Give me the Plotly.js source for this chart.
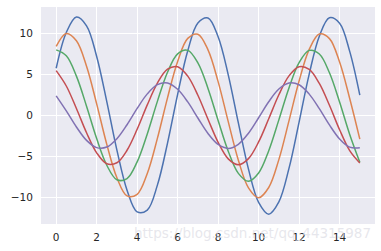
<!DOCTYPE html>
<html><head><meta charset="utf-8">
<script src="https://cdn.plot.ly/plotly-3.0.1.min.js"></script>
<style>html,body{margin:0;padding:0;background:#fff}#chart{width:381px;height:251px}</style>
</head><body><div id="chart"></div>
<script>
const xValues = [0,0.5,1,1.5,2,2.5,3,3.5,4,4.5,5,5.5,6,6.5,7,7.5,8,8.5,9,9.5,10,10.5,11,11.5,12,12.5,13,13.5,14,14.5,15];
const series1 = [5.75,10.10,11.97,10.91,7.18,1.69,-4.21,-9.08,-11.73,-11.51,-8.47,-3.35,2.58,7.88,11.26,11.87,9.58,4.95,-0.90,-6.53,-10.56,-12.00,-10.51,-6.44,-0.80,5.04,9.65,11.89,11.22,7.80,2.48];
const series2 = [8.41,9.98,9.09,5.99,1.41,-3.51,-7.57,-9.78,-9.59,-7.06,-2.79,2.15,6.57,9.38,9.89,7.99,4.12,-0.75,-5.44,-8.80,-10.00,-8.76,-5.37,-0.66,4.20,8.04,9.91,9.35,6.50,2.07,-2.88];
const series3 = [7.98,7.27,4.79,1.13,-2.81,-6.05,-7.82,-7.67,-5.64,-2.24,1.72,5.26,7.50,7.92,6.39,3.30,-0.60,-4.35,-7.04,-8.00,-7.00,-4.29,-0.53,3.36,6.43,7.92,7.48,5.20,1.65,-2.30,-5.69];
const series4 = [5.46,3.59,0.85,-2.10,-4.54,-5.87,-5.75,-4.23,-1.68,1.29,3.94,5.63,5.94,4.79,2.47,-0.45,-3.26,-5.28,-6.00,-5.25,-3.22,-0.40,2.52,4.82,5.94,5.61,3.90,1.24,-1.73,-4.27,-5.77];
const series5 = [2.39,0.56,-1.40,-3.03,-3.91,-3.84,-2.82,-1.12,0.86,2.63,3.75,3.96,3.19,1.65,-0.30,-2.18,-3.52,-4.00,-3.50,-2.15,-0.27,1.68,3.22,3.96,3.74,2.60,0.83,-1.15,-2.85,-3.85,-3.92];
const allSeries = [series1, series2, series3, series4, series5];
const colors = ['#4c72b0','#dd8452','#55a868','#c44e52','#8172b3'];
const xTicks = [0,2,4,6,8,10,12,14];
const yTicks = [-10,-5,0,5,10];
const watermark = 'https://blog.csdn.net/qq_44315987';

const traces = allSeries.map((s, i) => ({
  x: xValues, y: s, type: 'scatter', mode: 'lines',
  line: {color: colors[i], width: 1.5, shape: 'spline', smoothing: 1},
  hoverinfo: 'skip', showlegend: false
}));

const axisFont = {family: 'DejaVu Sans, sans-serif', size: 10.5, color: '#262626'};
const layout = {
  width: 381, height: 251,
  margin: {l: 41, r: 6, t: 7, b: 27},
  paper_bgcolor: '#ffffff', plot_bgcolor: '#eaeaf2',
  xaxis: {range: [-0.75, 15.75], tickvals: xTicks, ticktext: xTicks.map(String),
    showgrid: true, gridcolor: '#ffffff', gridwidth: 1, zeroline: false, showline: false,
    ticks: 'outside', ticklen: 3, tickcolor: 'rgba(0,0,0,0)', tickfont: axisFont},
  yaxis: {range: [-13.2, 13.2], tickvals: yTicks, ticktext: yTicks.map(v => v < 0 ? '\u2212' + Math.abs(v) : String(v)),
    showgrid: true, gridcolor: '#ffffff', gridwidth: 1, zeroline: false, showline: false,
    ticks: 'outside', ticklen: 5, tickcolor: 'rgba(0,0,0,0)', tickfont: axisFont},
  annotations: [{text: watermark, xref: 'paper', yref: 'paper', x: 0.995, y: -0.04,
    xanchor: 'right', yanchor: 'middle', showarrow: false,
    font: {family: 'DejaVu Sans, sans-serif', size: 13.5, color: 'rgba(220,220,228,0.7)'}}]
};
Plotly.newPlot('chart', traces, layout, {displayModeBar: false, staticPlot: true});
</script></body></html>
